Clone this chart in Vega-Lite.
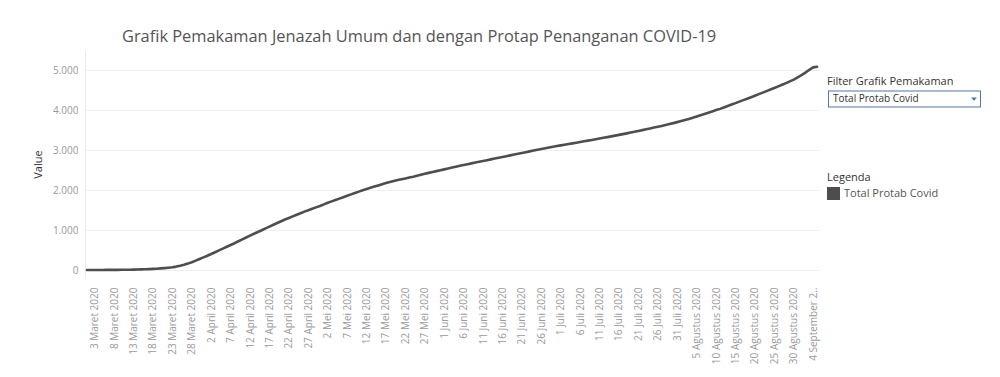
{
  "$schema": "https://vega.github.io/schema/vega-lite/v6.json",
  "width": 734,
  "height": 228,
  "autosize": "none",
  "padding": {"left": 85, "top": 50, "right": 181, "bottom": 99},
  "background": "white",
  "title": {
    "text": "Grafik Pemakaman Jenazah Umum dan dengan Protap Penanganan COVID-19",
    "anchor": "start",
    "frame": "group",
    "dx": 37,
    "offset": -8,
    "baseline": "alphabetic",
    "font": "Open Sans",
    "fontSize": 16.4,
    "fontWeight": "normal",
    "color": "#555555"
  },
  "data": {
    "values": [
      {"tanggal": "1 Maret 2020", "value": 0}, {"tanggal": "2 Maret 2020", "value": 0}, {"tanggal": "3 Maret 2020", "value": 0}, {"tanggal": "4 Maret 2020", "value": 1}, {"tanggal": "5 Maret 2020", "value": 1}, {"tanggal": "6 Maret 2020", "value": 2}, {"tanggal": "7 Maret 2020", "value": 2}, {"tanggal": "8 Maret 2020", "value": 3}, {"tanggal": "9 Maret 2020", "value": 4}, {"tanggal": "10 Maret 2020", "value": 5}, {"tanggal": "11 Maret 2020", "value": 6}, {"tanggal": "12 Maret 2020", "value": 8}, {"tanggal": "13 Maret 2020", "value": 10}, {"tanggal": "14 Maret 2020", "value": 12}, {"tanggal": "15 Maret 2020", "value": 15}, {"tanggal": "16 Maret 2020", "value": 18}, {"tanggal": "17 Maret 2020", "value": 22}, {"tanggal": "18 Maret 2020", "value": 27}, {"tanggal": "19 Maret 2020", "value": 33}, {"tanggal": "20 Maret 2020", "value": 40}, {"tanggal": "21 Maret 2020", "value": 48}, {"tanggal": "22 Maret 2020", "value": 58}, {"tanggal": "23 Maret 2020", "value": 70}, {"tanggal": "24 Maret 2020", "value": 85}, {"tanggal": "25 Maret 2020", "value": 105}, {"tanggal": "26 Maret 2020", "value": 130}, {"tanggal": "27 Maret 2020", "value": 160}, {"tanggal": "28 Maret 2020", "value": 195}, {"tanggal": "29 Maret 2020", "value": 235}, {"tanggal": "30 Maret 2020", "value": 275}, {"tanggal": "31 Maret 2020", "value": 315},
      {"tanggal": "1 April 2020", "value": 355}, {"tanggal": "2 April 2020", "value": 400}, {"tanggal": "3 April 2020", "value": 445}, {"tanggal": "4 April 2020", "value": 490}, {"tanggal": "5 April 2020", "value": 535}, {"tanggal": "6 April 2020", "value": 580}, {"tanggal": "7 April 2020", "value": 625}, {"tanggal": "8 April 2020", "value": 670}, {"tanggal": "9 April 2020", "value": 718}, {"tanggal": "10 April 2020", "value": 765}, {"tanggal": "11 April 2020", "value": 812}, {"tanggal": "12 April 2020", "value": 860}, {"tanggal": "13 April 2020", "value": 905}, {"tanggal": "14 April 2020", "value": 950}, {"tanggal": "15 April 2020", "value": 995}, {"tanggal": "16 April 2020", "value": 1040}, {"tanggal": "17 April 2020", "value": 1085}, {"tanggal": "18 April 2020", "value": 1130}, {"tanggal": "19 April 2020", "value": 1175}, {"tanggal": "20 April 2020", "value": 1220}, {"tanggal": "21 April 2020", "value": 1262}, {"tanggal": "22 April 2020", "value": 1300}, {"tanggal": "23 April 2020", "value": 1340}, {"tanggal": "24 April 2020", "value": 1380}, {"tanggal": "25 April 2020", "value": 1420}, {"tanggal": "26 April 2020", "value": 1460}, {"tanggal": "27 April 2020", "value": 1495}, {"tanggal": "28 April 2020", "value": 1530}, {"tanggal": "29 April 2020", "value": 1565}, {"tanggal": "30 April 2020", "value": 1600},
      {"tanggal": "1 Mei 2020", "value": 1640}, {"tanggal": "2 Mei 2020", "value": 1680}, {"tanggal": "3 Mei 2020", "value": 1715}, {"tanggal": "4 Mei 2020", "value": 1750}, {"tanggal": "5 Mei 2020", "value": 1785}, {"tanggal": "6 Mei 2020", "value": 1820}, {"tanggal": "7 Mei 2020", "value": 1855}, {"tanggal": "8 Mei 2020", "value": 1890}, {"tanggal": "9 Mei 2020", "value": 1925}, {"tanggal": "10 Mei 2020", "value": 1960}, {"tanggal": "11 Mei 2020", "value": 1995}, {"tanggal": "12 Mei 2020", "value": 2025}, {"tanggal": "13 Mei 2020", "value": 2055}, {"tanggal": "14 Mei 2020", "value": 2085}, {"tanggal": "15 Mei 2020", "value": 2115}, {"tanggal": "16 Mei 2020", "value": 2145}, {"tanggal": "17 Mei 2020", "value": 2175}, {"tanggal": "18 Mei 2020", "value": 2200}, {"tanggal": "19 Mei 2020", "value": 2225}, {"tanggal": "20 Mei 2020", "value": 2250}, {"tanggal": "21 Mei 2020", "value": 2270}, {"tanggal": "22 Mei 2020", "value": 2290}, {"tanggal": "23 Mei 2020", "value": 2310}, {"tanggal": "24 Mei 2020", "value": 2330}, {"tanggal": "25 Mei 2020", "value": 2355}, {"tanggal": "26 Mei 2020", "value": 2380}, {"tanggal": "27 Mei 2020", "value": 2405}, {"tanggal": "28 Mei 2020", "value": 2428}, {"tanggal": "29 Mei 2020", "value": 2450}, {"tanggal": "30 Mei 2020", "value": 2472}, {"tanggal": "31 Mei 2020", "value": 2494},
      {"tanggal": "1 Juni 2020", "value": 2516}, {"tanggal": "2 Juni 2020", "value": 2538}, {"tanggal": "3 Juni 2020", "value": 2560}, {"tanggal": "4 Juni 2020", "value": 2582}, {"tanggal": "5 Juni 2020", "value": 2604}, {"tanggal": "6 Juni 2020", "value": 2626}, {"tanggal": "7 Juni 2020", "value": 2646}, {"tanggal": "8 Juni 2020", "value": 2666}, {"tanggal": "9 Juni 2020", "value": 2686}, {"tanggal": "10 Juni 2020", "value": 2706}, {"tanggal": "11 Juni 2020", "value": 2726}, {"tanggal": "12 Juni 2020", "value": 2746}, {"tanggal": "13 Juni 2020", "value": 2766}, {"tanggal": "14 Juni 2020", "value": 2786}, {"tanggal": "15 Juni 2020", "value": 2806}, {"tanggal": "16 Juni 2020", "value": 2826}, {"tanggal": "17 Juni 2020", "value": 2846}, {"tanggal": "18 Juni 2020", "value": 2866}, {"tanggal": "19 Juni 2020", "value": 2886}, {"tanggal": "20 Juni 2020", "value": 2906}, {"tanggal": "21 Juni 2020", "value": 2926}, {"tanggal": "22 Juni 2020", "value": 2946}, {"tanggal": "23 Juni 2020", "value": 2966}, {"tanggal": "24 Juni 2020", "value": 2986}, {"tanggal": "25 Juni 2020", "value": 3006}, {"tanggal": "26 Juni 2020", "value": 3026}, {"tanggal": "27 Juni 2020", "value": 3044}, {"tanggal": "28 Juni 2020", "value": 3062}, {"tanggal": "29 Juni 2020", "value": 3080}, {"tanggal": "30 Juni 2020", "value": 3098},
      {"tanggal": "1 Juli 2020", "value": 3115}, {"tanggal": "2 Juli 2020", "value": 3132}, {"tanggal": "3 Juli 2020", "value": 3149}, {"tanggal": "4 Juli 2020", "value": 3166}, {"tanggal": "5 Juli 2020", "value": 3183}, {"tanggal": "6 Juli 2020", "value": 3200}, {"tanggal": "7 Juli 2020", "value": 3217}, {"tanggal": "8 Juli 2020", "value": 3234}, {"tanggal": "9 Juli 2020", "value": 3251}, {"tanggal": "10 Juli 2020", "value": 3268}, {"tanggal": "11 Juli 2020", "value": 3286}, {"tanggal": "12 Juli 2020", "value": 3304}, {"tanggal": "13 Juli 2020", "value": 3322}, {"tanggal": "14 Juli 2020", "value": 3340}, {"tanggal": "15 Juli 2020", "value": 3359}, {"tanggal": "16 Juli 2020", "value": 3378}, {"tanggal": "17 Juli 2020", "value": 3397}, {"tanggal": "18 Juli 2020", "value": 3416}, {"tanggal": "19 Juli 2020", "value": 3436}, {"tanggal": "20 Juli 2020", "value": 3456}, {"tanggal": "21 Juli 2020", "value": 3476}, {"tanggal": "22 Juli 2020", "value": 3497}, {"tanggal": "23 Juli 2020", "value": 3518}, {"tanggal": "24 Juli 2020", "value": 3539}, {"tanggal": "25 Juli 2020", "value": 3560}, {"tanggal": "26 Juli 2020", "value": 3580}, {"tanggal": "27 Juli 2020", "value": 3602}, {"tanggal": "28 Juli 2020", "value": 3625}, {"tanggal": "29 Juli 2020", "value": 3648}, {"tanggal": "30 Juli 2020", "value": 3672}, {"tanggal": "31 Juli 2020", "value": 3697},
      {"tanggal": "1 Agustus 2020", "value": 3723}, {"tanggal": "2 Agustus 2020", "value": 3750}, {"tanggal": "3 Agustus 2020", "value": 3778}, {"tanggal": "4 Agustus 2020", "value": 3807}, {"tanggal": "5 Agustus 2020", "value": 3837}, {"tanggal": "6 Agustus 2020", "value": 3868}, {"tanggal": "7 Agustus 2020", "value": 3900}, {"tanggal": "8 Agustus 2020", "value": 3932}, {"tanggal": "9 Agustus 2020", "value": 3965}, {"tanggal": "10 Agustus 2020", "value": 3998}, {"tanggal": "11 Agustus 2020", "value": 4028}, {"tanggal": "12 Agustus 2020", "value": 4064}, {"tanggal": "13 Agustus 2020", "value": 4100}, {"tanggal": "14 Agustus 2020", "value": 4136}, {"tanggal": "15 Agustus 2020", "value": 4172}, {"tanggal": "16 Agustus 2020", "value": 4209}, {"tanggal": "17 Agustus 2020", "value": 4246}, {"tanggal": "18 Agustus 2020", "value": 4283}, {"tanggal": "19 Agustus 2020", "value": 4320}, {"tanggal": "20 Agustus 2020", "value": 4358}, {"tanggal": "21 Agustus 2020", "value": 4396}, {"tanggal": "22 Agustus 2020", "value": 4434}, {"tanggal": "23 Agustus 2020", "value": 4472}, {"tanggal": "24 Agustus 2020", "value": 4511}, {"tanggal": "25 Agustus 2020", "value": 4550}, {"tanggal": "26 Agustus 2020", "value": 4590}, {"tanggal": "27 Agustus 2020", "value": 4630}, {"tanggal": "28 Agustus 2020", "value": 4672}, {"tanggal": "29 Agustus 2020", "value": 4715}, {"tanggal": "30 Agustus 2020", "value": 4760}, {"tanggal": "31 Agustus 2020", "value": 4815},
      {"tanggal": "1 September 2020", "value": 4872}, {"tanggal": "2 September 2020", "value": 4935}, {"tanggal": "3 September 2020", "value": 5005}, {"tanggal": "4 September 2020", "value": 5065}, {"tanggal": "5 September 2020", "value": 5080}
    ]
  },
  "encoding": {
    "x": {
      "field": "tanggal",
      "type": "ordinal",
      "sort": null,
      "scale": {"type": "point", "padding": 0.5},
      "axis": {
        "title": null,
        "values": ["3 Maret 2020", "8 Maret 2020", "13 Maret 2020", "18 Maret 2020", "23 Maret 2020", "28 Maret 2020", "2 April 2020", "7 April 2020", "12 April 2020", "17 April 2020", "22 April 2020", "27 April 2020", "2 Mei 2020", "7 Mei 2020", "12 Mei 2020", "17 Mei 2020", "22 Mei 2020", "27 Mei 2020", "1 Juni 2020", "6 Juni 2020", "11 Juni 2020", "16 Juni 2020", "21 Juni 2020", "26 Juni 2020", "1 Juli 2020", "6 Juli 2020", "11 Juli 2020", "16 Juli 2020", "21 Juli 2020", "26 Juli 2020", "31 Juli 2020", "5 Agustus 2020", "10 Agustus 2020", "15 Agustus 2020", "20 Agustus 2020", "25 Agustus 2020", "30 Agustus 2020", "4 September 2020"],
        "labelExpr": "datum.label == '4 September 2020' ? '4 September 2..' : datum.label",
        "labelAngle": 270,
        "labelAlign": "right",
        "labelBaseline": "middle",
        "labelPadding": 9,
        "labelOverlap": false,
        "labelFont": "Open Sans",
        "labelFontSize": 10,
        "labelColor": "#9a9a9a",
        "ticks": false,
        "domain": false,
        "grid": false
      }
    },
    "y": {
      "field": "value",
      "type": "quantitative",
      "scale": {"domain": [-200, 5500], "nice": false, "zero": false},
      "axis": {
        "title": "Value",
        "titleFont": "Open Sans",
        "titleFontSize": 11,
        "titleFontWeight": "normal",
        "titleColor": "#333333",
        "titlePadding": 9,
        "values": [0, 1000, 2000, 3000, 4000, 5000],
        "labelExpr": "replace(format(datum.value, ','), ',', '.')",
        "labelFont": "Open Sans",
        "labelFontSize": 10,
        "labelColor": "#999999",
        "labelPadding": 7,
        "ticks": false,
        "domain": true,
        "domainColor": "#ececec",
        "grid": true,
        "gridColor": "#efefef",
        "gridWidth": 1
      }
    }
  },
  "layer": [
    {
      "mark": {"type": "line", "strokeWidth": 2.6, "strokeCap": "round", "strokeJoin": "round"},
      "encoding": {
        "color": {
          "datum": "Total Protab Covid",
          "scale": {"range": ["#4e4e4e"]},
          "legend": {
            "title": "Legenda",
            "orient": "none",
            "legendX": 742,
            "legendY": 122,
            "titleFont": "Open Sans",
            "titleFontSize": 11,
            "titleFontWeight": "normal",
            "titleColor": "#333333",
            "titlePadding": 4,
            "labelFont": "Open Sans",
            "labelFontSize": 11,
            "labelColor": "#555555",
            "labelOffset": 4,
            "symbolType": "square",
            "encode": {
              "symbols": {"update": {"fill": {"value": "#4d4d4d"}, "stroke": {"value": "#4d4d4d"}, "strokeWidth": {"value": 0}, "size": {"value": 169}, "shape": {"value": "square"}, "opacity": {"value": 1}}}
            }
          }
        }
      }
    },
    {
      "mark": {"type": "point", "filled": true, "opacity": 0, "size": 0},
      "encoding": {
        "shape": {
          "datum": "Filter: Total Protab Covid",
          "scale": {"range": ["M-2,-4.25H74.5V4.25H-2Z M-1.5,-3.75V3.75H74V-3.75Z M69.5,-0.75H72.5L71,0.9Z"]},
          "legend": {
            "title": "Filter Grafik Pemakaman",
            "orient": "none",
            "legendX": 742,
            "legendY": 26,
            "labelExpr": "replace(datum.label, 'Filter: ', '')",
            "titleFont": "Open Sans",
            "titleFontSize": 11,
            "titleFontWeight": "normal",
            "titleColor": "#333333",
            "titlePadding": 7,
            "labelFont": "Open Sans",
            "labelFontSize": 10,
            "labelColor": "#333333",
            "labelOffset": -4,
            "symbolSize": 16,
            "encode": {
              "symbols": {"update": {"fill": {"value": "#a0a0a0"}, "stroke": {"value": "transparent"}, "strokeWidth": {"value": 0}, "size": {"value": 16}, "opacity": {"value": 1}}}
            }
          }
        }
      }
    }
  ],
  "config": {
    "view": {"stroke": null},
    "font": "Open Sans"
  }
}
